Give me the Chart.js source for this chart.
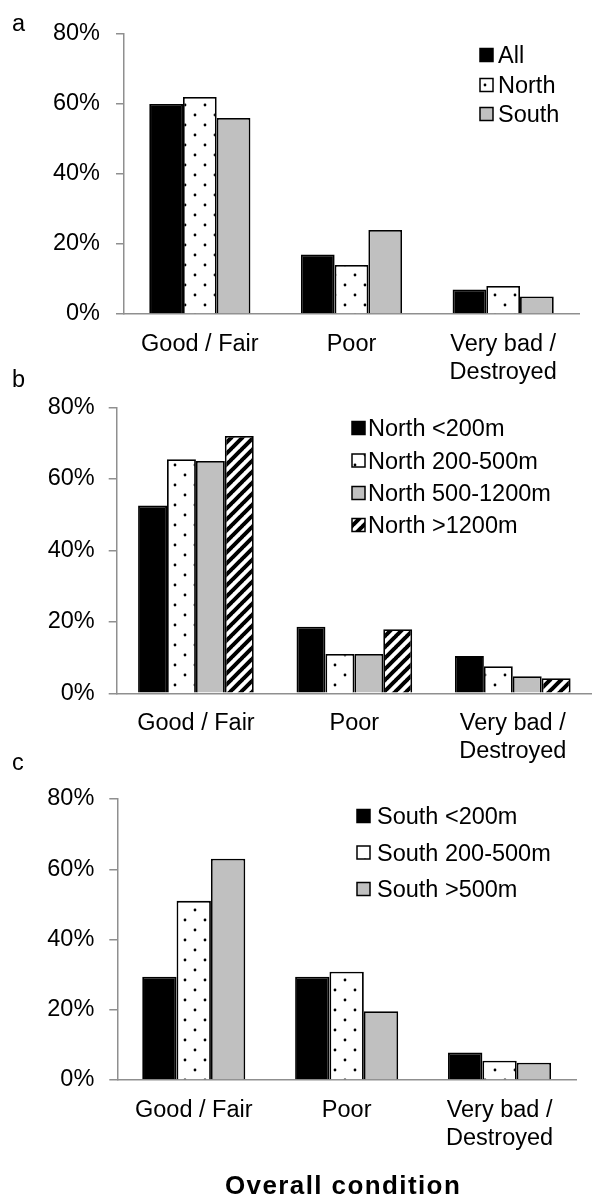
<!DOCTYPE html>
<html>
<head>
<meta charset="utf-8">
<script src="https://cdn.jsdelivr.net/npm/chart.js@4/dist/chart.umd.min.js"></script>
<style>
  html, body { margin: 0; padding: 0; background: #fff; }
  #wrap { position: relative; width: 592px; height: 1198px; overflow: hidden; }
  #wrap canvas { position: absolute; left: 0; }
  #axisTitle {
    position: absolute; left: 225px; top: 1172px;
    font: bold 26px/26px "Liberation Sans", Arial, sans-serif;
    letter-spacing: 1.4px; color: #000; white-space: nowrap;
  }
</style>
</head>
<body>
<div id="wrap">
  <canvas id="chartA" width="592" height="400" style="top:0px"></canvas>
  <canvas id="chartB" width="592" height="420" style="top:350px"></canvas>
  <canvas id="chartC" width="592" height="463" style="top:735px"></canvas>
  <div id="axisTitle">Overall condition</div>
</div>
<script>
// ---- data ----
const categories = ['Good / Fair', 'Poor', ['Very bad /', 'Destroyed']];
const yTicks = [0, 20, 40, 60, 80];

// a: all sites, split by region
const seriesA = ['All', 'North', 'South'];
const allSites = [60, 17, 7];
const northSites = [62, 14, 8];
const southSites = [56, 24, 5];

// b: northern sites by altitude
const seriesB = ['North <200m', 'North 200-500m', 'North 500-1200m', 'North >1200m'];
const northBelow200 = [52.5, 18.6, 10.4];
const north200to500 = [65.5, 11, 7.6];
const north500to1200 = [65, 11, 4.8];
const northAbove1200 = [72, 17.9, 4.2];

// c: southern sites by altitude
const seriesC = ['South <200m', 'South 200-500m', 'South >500m'];
const southBelow200 = [29.4, 29.4, 7.8];
const south200to500 = [51, 30.8, 5.5];
const southAbove500 = [63, 19.6, 4.9];

// ---- styling ----
const FONT = '"Liberation Sans", Arial, sans-serif';
const FONT_SIZE = 23.5;
const AXIS_GREY = '#8f8f8f';
Chart.defaults.font.family = FONT;
Chart.defaults.font.size = FONT_SIZE;
Chart.defaults.color = '#000';

function tile(size, paint) {
  const c = document.createElement('canvas');
  c.width = size; c.height = size;
  const g = c.getContext('2d');
  g.fillStyle = '#fff';
  g.fillRect(0, 0, size, size);
  paint(g, size);
  return g.createPattern(c, 'repeat');
}
const dots = tile(20, (g) => {
  g.fillStyle = '#000';
  g.beginPath();
  g.arc(5, 5, 1.4, 0, Math.PI * 2);
  g.arc(15, 15, 1.4, 0, Math.PI * 2);
  g.fill();
});
const stripes = tile(11, (g, s) => {
  g.strokeStyle = '#000';
  g.lineWidth = 4;
  g.beginPath();
  for (let k = -1; k <= 1; k++) {
    g.moveTo(k * s - 1, s + 1);
    g.lineTo(k * s + s + 1, -1);
  }
  g.stroke();
});
const BLACK = '#000';
const GREY = '#c0c0c0';

// panel letter + legend drawn at fixed spots inside each canvas
const panelDecor = {
  id: 'panelDecor',
  afterDraw(chart, args, o) {
    const ctx = chart.ctx;
    const top = o.canvasTop;
    ctx.save();
    ctx.fillStyle = '#000';
    ctx.font = FONT_SIZE + 'px ' + FONT;
    ctx.textBaseline = 'alphabetic';
    ctx.textAlign = 'left';
    ctx.fillText(o.letter, o.letterX, o.letterBase - top);
    const box = 13;
    chart.data.datasets.forEach((ds, i) => {
      const cy = o.rows[i] - top;
      ctx.fillStyle = ds.backgroundColor;
      ctx.fillRect(o.boxX, cy - box / 2, box, box);
      ctx.lineWidth = 1.5;
      ctx.strokeStyle = '#000';
      ctx.strokeRect(o.boxX, cy - box / 2, box, box);
      ctx.fillStyle = '#000';
      ctx.fillText(ds.label, o.textX, cy + 0.358 * FONT_SIZE);
    });
    ctx.restore();
  }
};

function makePanel(id, labels, values, fills, g) {
  const datasets = labels.map((lab, i) => ({
    label: lab,
    data: values[i],
    backgroundColor: fills[i],
    borderColor: '#000',
    borderWidth: 1.8,
    categoryPercentage: g.catPct,
    barPercentage: 1.0
  }));
  const cvsH = document.getElementById(id).height;
  return new Chart(document.getElementById(id), {
    type: 'bar',
    data: { labels: categories, datasets },
    plugins: [panelDecor],
    options: {
      responsive: false,
      animation: false,
      layout: {
        padding: { top: g.top - g.canvasTop, left: 0, right: 592 - g.right, bottom: 0 }
      },
      plugins: {
        legend: { display: false },
        tooltip: { enabled: false },
        panelDecor: {
          canvasTop: g.canvasTop, letter: g.letter, letterX: 12, letterBase: g.letterBase,
          boxX: g.boxX, textX: g.textX, rows: g.rows
        }
      },
      scales: {
        x: {
          grid: { display: false, drawTicks: false },
          border: { display: true, color: AXIS_GREY, width: 1.5 },
          ticks: { padding: g.xPad, maxRotation: 0, autoSkip: false },
          afterFit(s) { s.height = g.canvasTop + cvsH - g.bottom; }
        },
        y: {
          min: 0, max: 80,
          grid: { drawOnChartArea: false, drawTicks: true, tickLength: 8, color: AXIS_GREY, lineWidth: 1.5 },
          border: { display: true, color: AXIS_GREY, width: 1.5 },
          ticks: { padding: g.yPad, callback: (v) => v + '%' },
          afterBuildTicks(s) { s.ticks = yTicks.map((v) => ({ value: v })); },
          afterFit(s) { s.width = g.left; }
        }
      }
    }
  });
}

makePanel('chartA', seriesA, [allSites, northSites, southSites], [BLACK, dots, GREY], {
  canvasTop: 0, top: 34, bottom: 314, left: 124, right: 579, catPct: 0.667,
  yPad: 16, xPad: 16, letter: 'a', letterBase: 31,
  boxX: 480, textX: 498, rows: [55, 85, 114]
});
makePanel('chartB', seriesB, [northBelow200, north200to500, north500to1200, northAbove1200],
  [BLACK, dots, GREY, stripes], {
  canvasTop: 350, top: 407.3, bottom: 693.3, left: 116.7, right: 592, catPct: 0.73,
  yPad: 14, xPad: 16, letter: 'b', letterBase: 387,
  boxX: 352, textX: 368, rows: [428, 460.5, 493, 525]
});
makePanel('chartC', seriesC, [southBelow200, south200to500, southAbove500], [BLACK, dots, GREY], {
  canvasTop: 735, top: 799, bottom: 1080, left: 117.3, right: 576, catPct: 0.674,
  yPad: 15, xPad: 16, letter: 'c', letterBase: 770,
  boxX: 357, textX: 377, rows: [816, 852.5, 889]
});
</script>
</body>
</html>
